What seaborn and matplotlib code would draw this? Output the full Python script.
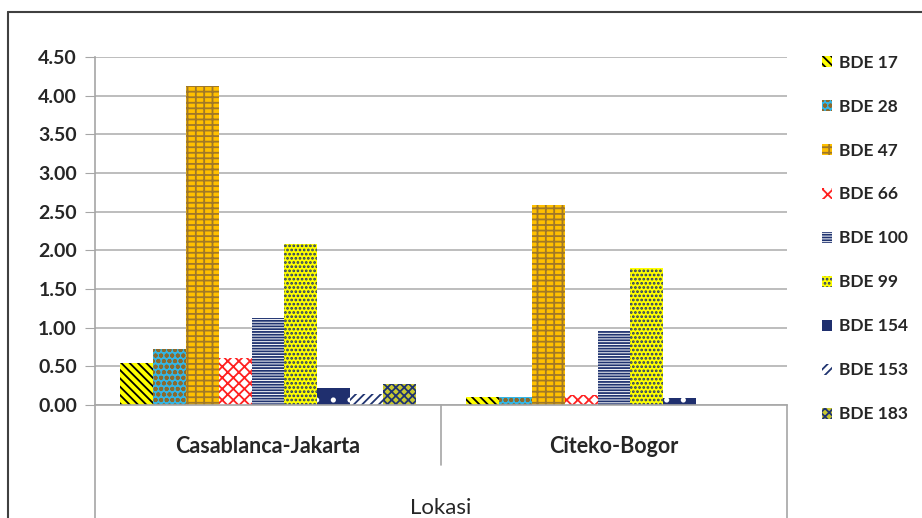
import pandas as pd
import numpy as np
import matplotlib.pyplot as plt
import seaborn as sns
from matplotlib.patches import Patch
from matplotlib.lines import Line2D

# data
lokasi = ['Casablanca-Jakarta', 'Citeko-Bogor']
kongener = ['BDE 17', 'BDE 28', 'BDE 47', 'BDE 66', 'BDE 100',
            'BDE 99', 'BDE 154', 'BDE 153', 'BDE 183']
casablanca_jakarta = [0.54, 0.72, 4.12, 0.61, 1.12, 2.08, 0.22, 0.14, 0.27]
citeko_bogor = [0.10, 0.10, 2.59, 0.13, 0.96, 1.77, 0.09, 0.0, 0.0]

# face colour, hatch colour, hatch pattern (Excel pattern fills approximated)
gaya = [
    ('#FFFF00', '#000000', '\\\\\\\\'),
    ('#33B5E5', '#8B6A2E', 'ooo'),
    ('#FFC000', '#A07828', '---||'),
    ('#FFFFFF', '#FF2020', 'xxx'),
    ('#FFFFFF', '#1F3370', '------'),
    ('#FFFF00', '#1F3370', '....'),
    ('#1F2F6E', '#FFFFFF', '.'),
    ('#FFFFFF', '#1F3370', '////'),
    ('#C8C830', '#1F3370', 'xxxx'),
]

df = pd.DataFrame({
    'Lokasi': np.repeat(lokasi, len(kongener)),
    'BDE': kongener * len(lokasi),
    'nilai': casablanca_jakarta + citeko_bogor,
})

sns.set_style('white')
plt.rcParams['font.family'] = ['Lato', 'DejaVu Sans']
plt.rcParams['hatch.linewidth'] = 1.3

fig = plt.figure(figsize=(9.22, 5.18), dpi=100)
ax = fig.add_axes([95 / 922, 113 / 518, 692 / 922, 348 / 518])

sns.barplot(data=df, x='Lokasi', y='nilai', hue='BDE', order=lokasi,
            hue_order=kongener, palette=[g[0] for g in gaya],
            errorbar=None, width=0.855, dodge=True, legend=False, ax=ax)

for cont, (fc, hc, pat) in zip(ax.containers, gaya):
    for bar in cont:
        bar.set_facecolor(fc)
        bar.set_edgecolor(hc)
        bar.set_hatch(pat)
        bar.set_linewidth(0)

ax.set_xlim(-0.5, 1.5)
ax.set_ylim(0, 4.5)
ax.set_yticks(np.arange(0, 4.51, 0.5))
ax.set_yticklabels([f'{v:.2f}' for v in np.arange(0, 4.51, 0.5)],
                   fontsize=14, fontweight='bold')
ax.yaxis.grid(True, color='#BDBDBD', linewidth=1.4)
ax.set_axisbelow(True)
ax.tick_params(axis='y', direction='out', length=7, color='#A6A6A6',
               left=True, pad=6)
ax.tick_params(axis='x', length=0, pad=22, labelsize=15.5)
for lbl in ax.get_xticklabels():
    lbl.set_fontweight('bold')
ax.set_xlabel('Lokasi', fontsize=16, labelpad=30)
ax.set_ylabel('')

for side in ['top', 'right']:
    ax.spines[side].set_visible(False)
for side in ['left', 'bottom']:
    ax.spines[side].set_color('#A6A6A6')
    ax.spines[side].set_linewidth(1.2)

# multi-level category axis dividers
garis = dict(color='#A6A6A6', linewidth=1.2, transform=fig.transFigure,
             clip_on=False)
fig.add_artist(Line2D([95 / 922, 95 / 922], [0, 113 / 518], **garis))
fig.add_artist(Line2D([441 / 922, 441 / 922], [53 / 518, 113 / 518], **garis))
fig.add_artist(Line2D([787 / 922, 787 / 922], [0, 113 / 518], **garis))

# outer chart border (cut off by the picture edge)
bingkai = dict(color='#404040', linewidth=1.5, transform=fig.transFigure)
fig.add_artist(Line2D([8 / 922, 1.01], [506 / 518, 506 / 518], **bingkai))
fig.add_artist(Line2D([8 / 922, 8 / 922], [-0.01, 506 / 518], **bingkai))

handles = [Patch(facecolor=fc, edgecolor=hc, hatch=pat, linewidth=0)
           for fc, hc, pat in gaya]
fig.legend(handles=handles, labels=kongener, loc='upper left',
           bbox_to_anchor=(806 / 922, 479 / 518), frameon=False,
           prop={'size': 12.5, 'weight': 'bold'}, handlelength=0.6,
           handleheight=0.6, handletextpad=0.4, labelspacing=1.61)

fig.savefig('out.png', dpi=100)
